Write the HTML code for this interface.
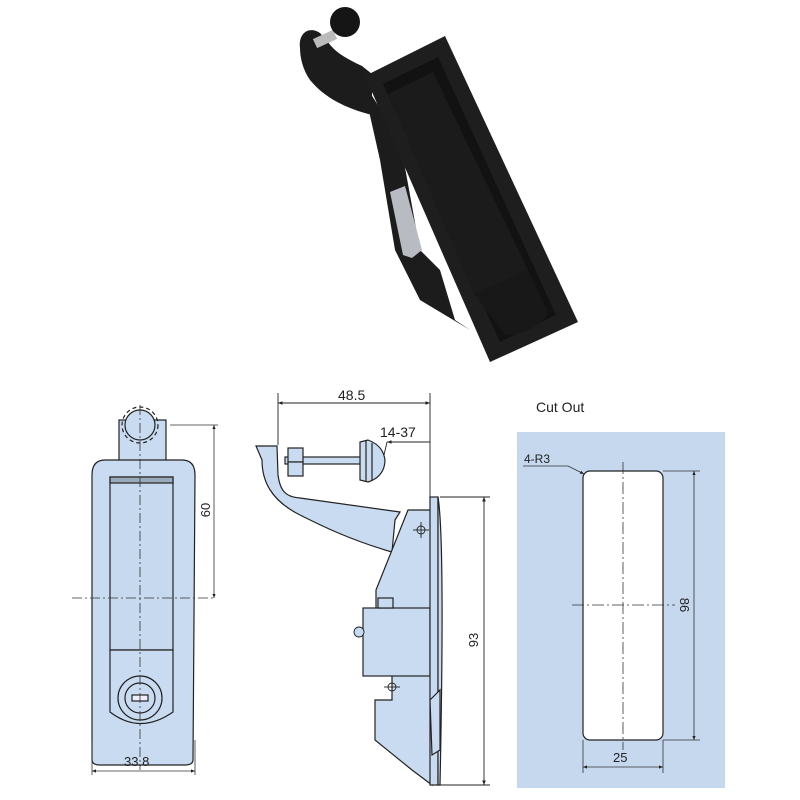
<!DOCTYPE html>
<html><head><meta charset="utf-8"><style>
html,body{margin:0;padding:0;background:#fff}
svg{display:block}
text{font-family:"Liberation Sans",sans-serif;fill:#222}
</style></head><body>
<svg width="800" height="800" viewBox="0 0 800 800" xmlns="http://www.w3.org/2000/svg">
<defs>
<marker id="a" viewBox="0 0 10 10" refX="10" refY="5" markerWidth="7" markerHeight="5" orient="auto-start-reverse"><path d="M0,1 L10,5 L0,9 z" fill="#222"/></marker>
</defs>
<!-- photo -->
<g>
<path d="M362,80 L400,140 L420,250 L440,270 L455,320 L470,330 L420,300 L395,250 L380,160 Z" fill="#1c1c1c"/>
<path d="M300,48 C298,32 310,26 320,33 L328,42 C335,52 345,58 362,66 L372,74 L372,115 C345,108 325,98 310,80 C303,70 300,58 300,48 Z" fill="#1c1c1c"/>
<rect x="314" y="34" width="22" height="10" fill="#bbb" transform="rotate(-25 325 39)"/>
<circle cx="345" cy="22" r="15" fill="#151515"/>
<path d="M365,76 L445,36 L578,322 L490,362 Z" fill="#1e1e1e"/>
<path d="M383,84 L438,57 L556,315 L500,342 Z" fill="#121212"/>
<path d="M388,94 L433,72 L528,270 L474,294 Z" fill="#1b1b1b"/>
<path d="M474,294 L528,270 L548,312 C545,326 515,338 505,334 Z" fill="#181818"/>
<path d="M390,192 L405,186 L422,250 L412,258 L403,255 Z" fill="#b8bcc2"/>
</g>
<!-- front view -->
<g stroke="#222" stroke-width="1.2" fill="#c9dbf0">
<rect x="119" y="420" width="47" height="45"/>
<circle cx="140" cy="425" r="15"/>
<circle cx="140" cy="425" r="18" fill="none" stroke-dasharray="4,3"/>
<path d="M105,460 L182,460 Q195,460 195,475 L193,760 Q193,765 185,765 L100,765 Q92,765 92,760 L92,475 Q92,460 105,460 Z"/>
<rect x="110" y="477" width="63" height="173" fill="#c6d9ef"/>
<rect x="110" y="477" width="63" height="6" fill="#9ab" />
<path d="M110,650 L173,650 L173,712 Q140,735 110,712 Z"/>
<circle cx="140" cy="698" r="22"/>
<circle cx="140" cy="698" r="15"/>
<rect x="132" y="695" width="16" height="6" fill="#eef"/>
</g>
<g stroke="#333" stroke-width="0.8" fill="none">
<line x1="140" y1="405" x2="140" y2="770" stroke-dasharray="10,3,2,3"/>
<line x1="72" y1="598" x2="215" y2="598" stroke-dasharray="10,3,2,3"/>
<line x1="170" y1="425" x2="218" y2="425"/>
<line x1="214" y1="425" x2="214" y2="598" marker-start="url(#a)" marker-end="url(#a)"/>
<line x1="92" y1="740" x2="92" y2="775"/><line x1="195" y1="740" x2="195" y2="775"/>
<line x1="92" y1="771" x2="195" y2="771" marker-start="url(#a)" marker-end="url(#a)"/>
</g>
<text x="124" y="766" font-size="13">33.8</text>
<text transform="translate(210,510) rotate(-90)" font-size="13" text-anchor="middle">60</text>
<!-- side view -->
<g stroke="#222" stroke-width="1.2" fill="#c9dbf0">
<path d="M256,446 L277,446 L278,475 C280,490 285,497 300,498 L400,512 L395,520 L392,552 C350,540 320,525 300,515 C270,500 262,480 262,460 Z"/>
<rect x="285" y="457" width="80" height="7"/>
<rect x="288" y="448" width="15" height="14"/><rect x="288" y="462" width="15" height="14"/>
<path d="M360,442 L368,440 Q384,446 385,461 Q384,477 368,482 L360,480 Z"/>
<line x1="366" y1="441" x2="366" y2="481"/><line x1="372" y1="443" x2="372" y2="480"/>
<path d="M408,510 L432,510 L432,785 L412,770 L375,740 L375,700 L392,700 L392,675 L376,675 L376,590 Z"/>
<rect x="363" y="608" width="67" height="68"/>
<rect x="378" y="598" width="15" height="10"/>
<rect x="430" y="497" width="8" height="288"/>
<path d="M438,497 Q445,540 440,785 L438,785 Z"/>
<path d="M430,700 L440,690 L440,750 L432,755 Z"/>
</g>
<g stroke="#222" stroke-width="0.9" fill="none">
<circle cx="421" cy="530" r="4"/><line x1="421" y1="522" x2="421" y2="538"/><line x1="413" y1="530" x2="429" y2="530"/>
<circle cx="392" cy="687" r="4"/><line x1="392" y1="679" x2="392" y2="695"/><line x1="384" y1="687" x2="400" y2="687"/>
<circle cx="359" cy="632" r="5" fill="#c9dbf0"/>
<line x1="278" y1="393" x2="278" y2="445"/><line x1="430" y1="393" x2="430" y2="497"/>
<line x1="278" y1="403" x2="430" y2="403" marker-start="url(#a)" marker-end="url(#a)"/>
<line x1="387" y1="442" x2="430" y2="442" marker-start="url(#a)"/>
<line x1="387" y1="442" x2="384" y2="455"/>
<line x1="440" y1="497" x2="490" y2="497"/><line x1="440" y1="785" x2="490" y2="785"/>
<line x1="484" y1="497" x2="484" y2="785" marker-start="url(#a)" marker-end="url(#a)"/>
</g>
<text x="338" y="400" font-size="14">48.5</text>
<text x="380" y="437" font-size="14">14-37</text>
<text transform="translate(478,640) rotate(-90)" font-size="13" text-anchor="middle">93</text>
<!-- cut out -->
<text x="536" y="412" font-size="14">Cut Out</text>
<rect x="517" y="432" width="208" height="356" fill="#c5d8ee"/>
<rect x="583" y="471" width="80" height="269" rx="7" fill="#fff" stroke="#222" stroke-width="1.2"/>
<g stroke="#333" stroke-width="0.8" fill="none">
<line x1="623" y1="462" x2="623" y2="750" stroke-dasharray="12,3,2,3"/>
<line x1="572" y1="605" x2="675" y2="605" stroke-dasharray="12,3,2,3"/>
<line x1="663" y1="471" x2="700" y2="471"/><line x1="663" y1="740" x2="700" y2="740"/>
<line x1="694" y1="471" x2="694" y2="740" marker-start="url(#a)" marker-end="url(#a)"/>
<line x1="583" y1="740" x2="583" y2="773"/><line x1="663" y1="740" x2="663" y2="773"/>
<line x1="583" y1="767" x2="663" y2="767" marker-start="url(#a)" marker-end="url(#a)"/>
<polyline points="523,466 568,466 584,474" marker-end="url(#a)"/>
</g>
<text x="524" y="463" font-size="12">4-R3</text>
<text x="613" y="762" font-size="13">25</text>
<text transform="translate(680,605) rotate(90)" font-size="13" text-anchor="middle">86</text>
</svg>
</body></html>
